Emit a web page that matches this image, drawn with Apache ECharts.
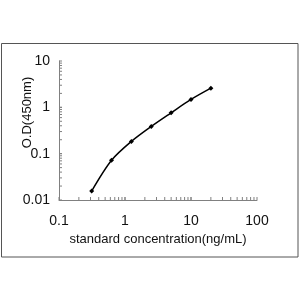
<!DOCTYPE html>
<html>
<head>
<meta charset="UTF-8">
<title>standard curve</title>
<script src="https://cdn.jsdelivr.net/npm/echarts@6/dist/echarts.min.js"></script>
<style>
  html, body { margin: 0; padding: 0; background: #fff; }
  #main { width: 300px; height: 300px; }
</style>
</head>
<body>
<div id="main"></div>
<script>
// standard points
var conc = [0.3125, 0.625, 1.25, 2.5, 5, 10, 20];
var od = [0.0156, 0.072, 0.184, 0.387, 0.762, 1.48, 2.59];
var xTicks = [0.1, 1, 10, 100];
var yTicks = [0.01, 0.1, 1, 10];

var font = 'Liberation Sans, Arial, sans-serif';
var axisGray = '#808080';

var chart = echarts.init(document.getElementById('main'));

var option = {
    animation: false,
    backgroundColor: '#fff',
    grid: { left: 59, right: 43, top: 61, bottom: 100, containLabel: false, outerBoundsMode: 'none' },
    xAxis: {
        type: 'log', logBase: 10, min: 0.1, max: 100,
        name: 'standard concentration(ng/mL)',
        nameLocation: 'middle', nameGap: 33, nameMoveOverlap: false,
        nameTextStyle: { color: '#111', fontSize: 13, fontFamily: font },
        axisLine: { lineStyle: { color: axisGray, width: 1 } },
        axisTick: { show: false },
        splitLine: { show: false },
        axisLabel: { color: '#111', fontSize: 14, fontFamily: font, margin: 14,
            formatter: function (v) { return String(+v.toPrecision(3)); } }
    },
    yAxis: {
        type: 'log', logBase: 10, min: 0.01, max: 10,
        name: 'O.D(450nm)',
        nameLocation: 'middle', nameGap: 25, nameMoveOverlap: false,
        nameTextStyle: { color: '#111', fontSize: 13, fontFamily: font, padding: [0, 0, 0, 36] },
        axisLine: { show: true, lineStyle: { color: axisGray, width: 1 } },
        axisTick: { show: false },
        splitLine: { show: false },
        axisLabel: { color: '#111', fontSize: 14, fontFamily: font, margin: 9,
            formatter: function (v) { return String(+v.toPrecision(3)); } }
    },
    series: [{
        type: 'line',
        data: conc.map(function (c, i) { return [c, od[i]]; }),
        smooth: 0.3,
        symbol: 'diamond',
        symbolSize: 5,
        lineStyle: { color: '#000', width: 1.5 },
        itemStyle: { color: '#000' }
    }]
};
chart.setOption(option);

// log minor ticks (2..9 each decade) and outer frame, placed through the axes
function buildGraphics() {
    var g = [];
    var x0 = xTicks[0], y0 = yTicks[0];
    for (var d = 0; d < xTicks.length - 1; d++) {
        for (var k = 1; k <= 10; k++) {
            var v = xTicks[d] * k;
            var p = chart.convertToPixel({ gridIndex: 0 }, [v, y0]);
            g.push({ type: 'line', shape: { x1: p[0], y1: p[1], x2: p[0], y2: p[1] - 3 },
                style: { stroke: axisGray, lineWidth: 1 } });
        }
    }
    for (var d2 = 0; d2 < yTicks.length - 1; d2++) {
        for (var k2 = 1; k2 <= 10; k2++) {
            var v2 = yTicks[d2] * k2;
            var q = chart.convertToPixel({ gridIndex: 0 }, [x0, v2]);
            g.push({ type: 'line', shape: { x1: q[0], y1: q[1], x2: q[0] + 3, y2: q[1] },
                style: { stroke: axisGray, lineWidth: 1 } });
        }
    }
    g.push({ type: 'rect', shape: { x: 1.5, y: 43.5, width: 296.5, height: 213.5 },
        style: { fill: null, stroke: '#555', lineWidth: 1 } });
    chart.setOption({ graphic: g });
}
buildGraphics();
</script>
</body>
</html>
